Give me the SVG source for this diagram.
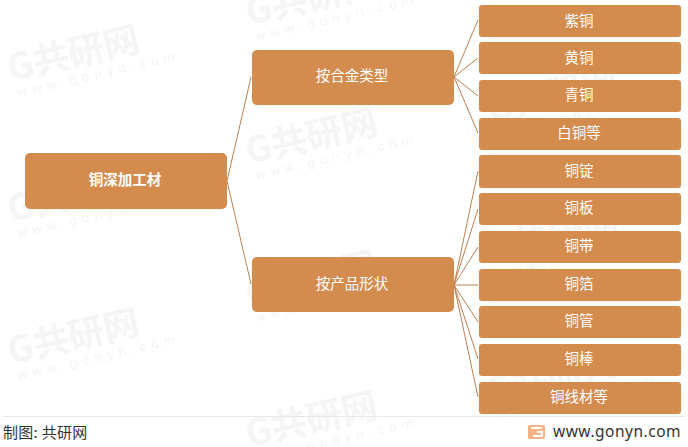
<svg xmlns="http://www.w3.org/2000/svg" width="688" height="447" viewBox="0 0 688 447">
<style>
.b{fill:#d38c4e}
.t{font-family:"Liberation Sans","Noto Sans CJK SC",sans-serif;font-size:14.500px;fill:#fff;text-anchor:middle}
.c{stroke:#bd8052;stroke-width:1;fill:none}
.w1{font-family:"Noto Sans CJK SC",sans-serif;font-size:36px;font-weight:700;fill:#f5f5f5}
.w2{font-family:"Liberation Sans",sans-serif;font-size:13px;letter-spacing:5.500px;fill:#f5f5f5}
</style>
<defs>
<g id="wm"><text class="w1" x="0" y="0">G共研网</text><text class="w2" x="4" y="17">www.gonyn.com</text></g>
</defs>
<rect width="688" height="447" fill="#fff"/>
<g id="watermarks">
<use href="#wm" transform="translate(11,81) rotate(-13)"/>
<use href="#wm" transform="translate(249,25) rotate(-13)"/>
<use href="#wm" transform="translate(249,164) rotate(-13)"/>
<use href="#wm" transform="translate(11,222) rotate(-13)"/>
<use href="#wm" transform="translate(490,122) rotate(-13)"/>
<use href="#wm" transform="translate(490,263) rotate(-13)"/>
<use href="#wm" transform="translate(11,364) rotate(-13)"/>
<use href="#wm" transform="translate(249,306) rotate(-13)"/>
<use href="#wm" transform="translate(490,404) rotate(-13)"/>
<use href="#wm" transform="translate(249,447) rotate(-13)"/>
</g>
<g id="connectors">
<path class="c" d="M227 181L251 77M227 181L251 284"/>
<path class="c" d="M454 77L478 20M454 77L478 58M454 77L478 96M454 77L478 133"/>
<path class="c" d="M454 285L478 171M454 285L478 209M454 285L478 247M454 285L478 285M454 285L478 322M454 285L478 359M454 285L478 397"/>
</g>
<g id="root"><rect class="b" x="25" y="153" width="202" height="56" rx="5"/><text class="t" x="125" y="185" style="font-weight:700">铜深加工材</text></g>
<g id="n1"><rect class="b" x="252" y="50" width="202" height="55" rx="5"/><text class="t" x="352" y="81">按合金类型</text></g>
<g id="n2"><rect class="b" x="252" y="257" width="202" height="55" rx="5"/><text class="t" x="352" y="289">按产品形状</text></g>
<g id="l1"><rect class="b" x="479" y="5" width="202" height="32" rx="3"/><text class="t" x="579" y="26">紫铜</text></g>
<g id="l2"><rect class="b" x="479" y="42" width="202" height="32" rx="3"/><text class="t" x="579" y="63">黄铜</text></g>
<g id="l3"><rect class="b" x="479" y="80" width="202" height="32" rx="3"/><text class="t" x="579" y="100">青铜</text></g>
<g id="l4"><rect class="b" x="479" y="118" width="202" height="32" rx="3"/><text class="t" x="579" y="138">白铜等</text></g>
<g id="l5"><rect class="b" x="479" y="155" width="202" height="33" rx="3"/><text class="t" x="579" y="176">铜锭</text></g>
<g id="l6"><rect class="b" x="479" y="193" width="202" height="32" rx="3"/><text class="t" x="579" y="213">铜板</text></g>
<g id="l7"><rect class="b" x="479" y="231" width="202" height="32" rx="3"/><text class="t" x="579" y="251">铜带</text></g>
<g id="l8"><rect class="b" x="479" y="269" width="202" height="32" rx="3"/><text class="t" x="579" y="289">铜箔</text></g>
<g id="l9"><rect class="b" x="479" y="306" width="202" height="32" rx="3"/><text class="t" x="579" y="326">铜管</text></g>
<g id="l10"><rect class="b" x="479" y="344" width="202" height="32" rx="3"/><text class="t" x="579" y="364">铜棒</text></g>
<g id="l11"><rect class="b" x="479" y="382" width="202" height="32" rx="3"/><text class="t" x="579" y="402">铜线材等</text></g>
<g id="footer">
<line x1="3" y1="416.500" x2="685" y2="416.500" stroke="#e8e8e8"/>
<text x="3" y="438" font-family="Noto Sans CJK SC,sans-serif" font-size="15" letter-spacing=".3" fill="#333">制图: 共研网</text>
<rect x="528" y="425" width="17" height="14" rx="2" fill="#f8b183"/>
<path d="M531 428H542M537 432H542V436H533" stroke="#fff" stroke-width="2" fill="none"/>
<text x="553" y="437" font-family="Noto Sans,sans-serif" font-size="15.500" letter-spacing=".5" fill="#333">www.gonyn.com</text>
</g>
</svg>
